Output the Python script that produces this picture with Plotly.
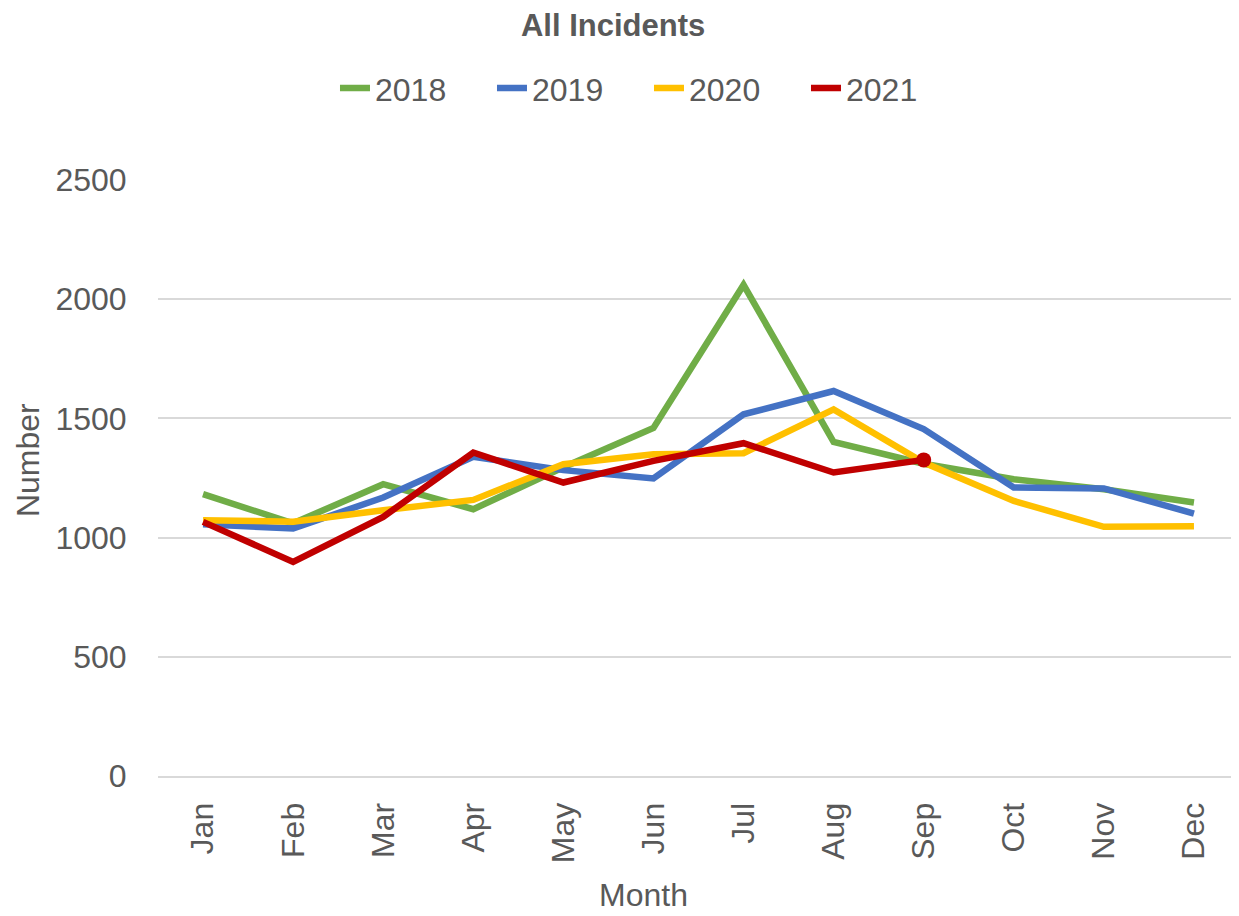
import plotly.graph_objects as go

# monthly incident counts
months = ["Jan", "Feb", "Mar", "Apr", "May", "Jun", "Jul", "Aug", "Sep", "Oct", "Nov", "Dec"]
y2018 = [1182, 1060, 1224, 1119, 1295, 1460, 2060, 1401, 1310, 1245, 1203, 1147]
y2019 = [1056, 1038, 1168, 1339, 1283, 1248, 1517, 1615, 1455, 1210, 1206, 1101]
y2020 = [1073, 1067, 1115, 1158, 1308, 1350, 1354, 1538, 1315, 1154, 1045, 1048]
y2021 = [1066, 898, 1087, 1357, 1231, 1322, 1396, 1273, 1326]

grey = "#595959"
font = "Liberation Sans, Arial, sans-serif"

fig = go.Figure()
series = [("2018", y2018, "#70ad47"), ("2019", y2019, "#4472c4"),
          ("2020", y2020, "#ffc000"), ("2021", y2021, "#c00000")]
for name, vals, col in series:
    fig.add_trace(go.Scatter(x=months[:len(vals)], y=vals, mode="lines", name=name,
                             line=dict(color=col, width=6.5)))

# last 2021 point has a marker
fig.add_trace(go.Scatter(x=[months[len(y2021) - 1]], y=[y2021[-1]], mode="markers",
                         marker=dict(color="#c00000", size=15), showlegend=False))

# page body has an 8px margin, so the figure is 8px smaller than the window
fig.update_layout(
    width=1231, height=908,
    paper_bgcolor="white", plot_bgcolor="white",
    margin=dict(l=150, r=0, t=172, b=140),
    font=dict(family=font, color=grey, size=32),
    title=dict(text="<b>All Incidents</b>", x=0.421, xref="paper", y=1 - 17 / 908,
               yref="container", yanchor="middle", xanchor="center",
               font=dict(size=31, color=grey)),
    legend=dict(orientation="h", x=0.4542, xanchor="center", y=1.154, yanchor="middle",
                font=dict(size=32, color=grey), entrywidth=112, tracegroupgap=0),
    showlegend=True,
)
# axis titles sit off-centre in the original, so use annotations
fig.add_annotation(text="Number", textangle=-90, xref="paper", yref="paper",
                   x=-150 / 1081, y=0.53, xanchor="left", yanchor="middle",
                   showarrow=False, font=dict(size=32, color=grey))
fig.add_annotation(text="Month", xref="paper", yref="paper",
                   x=0.4487, y=-0.233, xanchor="center", yanchor="bottom",
                   showarrow=False, font=dict(size=32, color=grey))
fig.update_xaxes(tickangle=-90, range=[-0.5, 11.5],
                 showgrid=False, showline=True, linecolor="#d9d9d9", linewidth=2,
                 ticks="outside", ticklen=12, tickcolor="white",
                 tickfont=dict(size=32, color=grey))
fig.update_yaxes(range=[0, 2500], dtick=500,
                 gridcolor="#d9d9d9", gridwidth=2, zeroline=False,
                 ticks="outside", ticklen=24, tickcolor="white",
                 tickfont=dict(size=32, color=grey))

fig.write_html("out.html")
